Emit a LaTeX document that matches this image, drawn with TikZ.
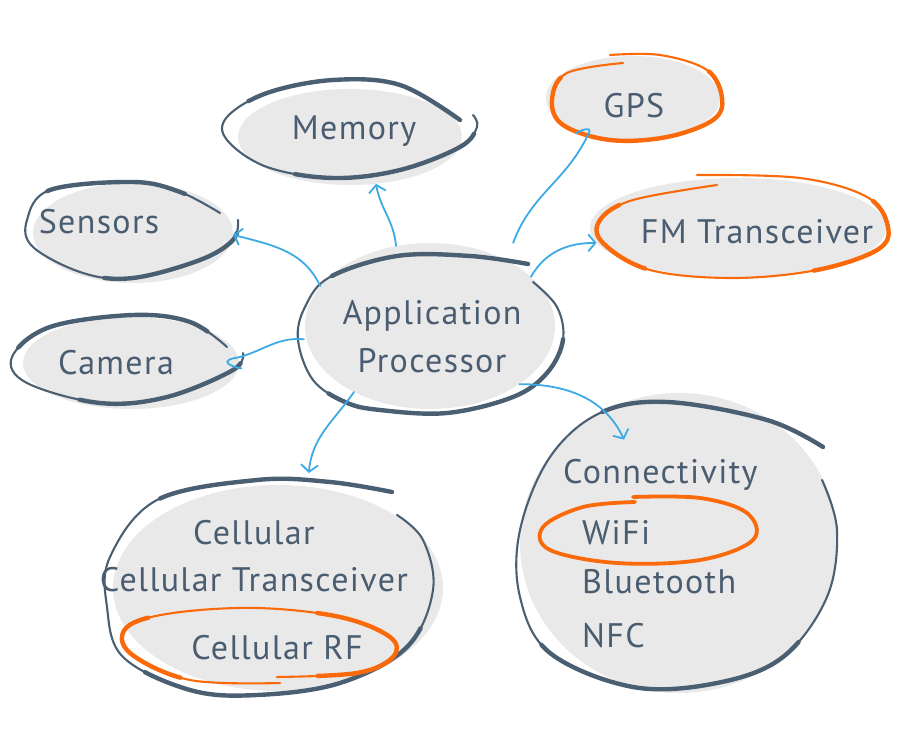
\documentclass[tikz,border=0pt]{standalone}
\usepackage{fontspec}
\setmainfont[LetterSpace=4]{PT Sans}
\usetikzlibrary{shapes.geometric,arrows.meta,calc}
\definecolor{fillc}{HTML}{E9E9E9}
\definecolor{darkc}{HTML}{4B5F73}
\definecolor{textc}{HTML}{4A5D70}
\definecolor{bluec}{HTML}{3BAAE6}
\definecolor{orangec}{HTML}{FA6A0A}
\tikzset{
  blob/.style={ellipse, fill=fillc, inner sep=0pt},
  darkline/.style={draw=darkc, line width=2.1pt, line cap=round, line join=round},
  orangeline/.style={draw=orangec, line width=2.1pt, line cap=round, line join=round},
  heavy/.style n args={2}{postaction={draw, line width=4.4pt, dash pattern={#1}, dash phase={#2}}},
  link/.style={draw=bluec, line width=1.8pt, line cap=round, -{Straight Barb[length=7pt,width=17pt,line width=1.8pt]}},
  curl/.style={draw=bluec, line width=1.8pt, line cap=round},
  lbl/.style={text=textc, font=\fontsize{34}{40}\selectfont, inner sep=0pt, anchor=base},
  lblw/.style={text=textc, font=\fontsize{34}{40}\selectfont, inner sep=0pt, anchor=base west},
}
\begin{document}
\begin{tikzpicture}[x=1pt,y=1pt]
\useasboundingbox (0,0) rectangle (900,-751);

% grey fills
\node[blob, minimum width=250pt, minimum height=166pt] (app) at (430,-326) {};
\node[blob, minimum width=224pt, minimum height=96pt] (mem) at (350,-137) {};
\node[blob, minimum width=200pt, minimum height=100pt] (sen) at (133,-233) {};
\node[blob, minimum width=216pt, minimum height=92pt] (cam) at (131,-363) {};
\node[blob, minimum width=174pt, minimum height=84pt] (gps) at (633,-98) {};
\node[blob, minimum width=296pt, minimum height=100pt] (fm) at (738,-228) {};
\node[blob, minimum width=330pt, minimum height=206pt] (cell) at (278,-588) {};
\node[blob, minimum width=318pt, minimum height=300pt] (cty) at (679,-543) {};

% hand-drawn outlines
\draw[darkline, heavy={on 200pt off 140pt on 270pt off 100pt}{0pt}] plot[smooth, tension=0.6] coordinates {(528,-264) (470,-256) (397,-256) (330,-277) (305,-307) (298,-340) (313,-380) (345,-402) (380,-410) (447,-413) (513,-397) (547,-373) (563,-340) (557,-307) (533,-282)};
\draw[darkline, heavy={on 225pt off 130pt on 190pt off 60pt}{0pt}] plot[smooth, tension=0.6] coordinates {(460,-120) (400,-85) (333,-80) (267,-93) (227,-117) (227,-140) (267,-167) (333,-178) (400,-170) (460,-147) (477,-127) (473,-115)};
\draw[darkline, heavy={on 140pt off 145pt on 145pt off 90pt}{480pt}] plot[smooth, tension=0.6] coordinates {(220,-213) (180,-192) (133,-182) (50,-190) (27,-220) (33,-247) (83,-273) (133,-278) (200,-260) (233,-240) (238,-220)};
\draw[darkline, heavy={on 200pt off 100pt on 170pt off 55pt}{500pt}] plot[smooth, tension=0.6] coordinates {(227,-347) (190,-322) (133,-315) (50,-327) (12,-357) (27,-383) (100,-403) (167,-397) (233,-370) (243,-353)};
\draw[orangeline, heavy={on 265pt off 200pt}{400pt}] plot[smooth, tension=0.6] coordinates {(623,-63) (567,-73) (552,-100) (563,-125) (610,-140) (667,-137) (713,-120) (722,-98) (707,-70) (660,-55) (610,-55)};
\draw[orangeline, heavy={on 100pt off 170pt on 125pt off 300pt}{595pt}] plot[smooth, tension=0.6] coordinates {(717,-185) (633,-200) (600,-220) (603,-243) (650,-270) (733,-278) (817,-270) (877,-250) (888,-227) (867,-197) (800,-178) (697,-175)};
\draw[darkline, heavy={on 235pt off 210pt on 300pt off 150pt}{0pt}] plot[smooth, tension=0.6] coordinates {(392,-492) (330,-482) (257,-480) (157,-500) (110,-557) (107,-607) (123,-657) (190,-690) (257,-695) (340,-683) (407,-647) (433,-590) (423,-540) (397,-515)};
\draw[orangeline, heavy={on 110pt off 170pt on 180pt off 140pt}{500pt}] plot[smooth, tension=0.6] coordinates {(280,-683) (190,-680) (130,-653) (127,-627) (173,-613) (257,-608) (340,-617) (390,-637) (393,-657) (357,-673) (277,-677)};
\draw[darkline, heavy={on 230pt off 270pt on 280pt off 200pt}{0pt}] plot[smooth, tension=0.6] coordinates {(823,-447) (767,-420) (667,-402) (600,-413) (550,-457) (520,-530) (520,-597) (550,-653) (633,-687) (717,-683) (783,-657) (827,-597) (837,-530) (822,-480)};
\draw[orangeline, line width=3.8pt] plot[smooth, tension=0.6] coordinates {(635,-502) (583,-507) (543,-527) (550,-550) (617,-563) (700,-560) (753,-540) (747,-513) (700,-498) (633,-497)};

% texts
\node[lbl] (t-app1) at (432,-325) {Application};
\node[lbl] (t-app2) at (432,-373) {Processor};
\node[lbl] (t-mem) at (354,-140) {Memory};
\node[lbl] (t-sen) at (99,-234) {Sensors};
\node[lbl] (t-cam) at (116,-374) {Camera};
\node[lbl] (t-gps) at (634,-118) {GPS};
\node[lbl] (t-fm) at (757,-244) {FM Transceiver};
\node[lbl] (t-cell1) at (254,-544) {Cellular};
\node[lbl] (t-cell2) at (254,-591) {Cellular Transceiver};
\node[lbl] (t-cell3) at (277,-659) {Cellular RF};
\node[lblw] (t-cty) at (563,-483) {Connectivity};
\node[lblw] (t-wifi) at (582,-544) {WiFi};
\node[lblw] (t-bt) at (582,-593) {Bluetooth};
\node[lblw] (t-nfc) at (582,-647) {NFC};

% connectors
\draw[link] (app.113) to[out=95,in=-80] (mem.-61);
\draw[link] (app.160) to[out=115,in=-15] (sen.-1);
\draw[curl] ($(app.center)!1.02!(app.186)$) to[out=175,in=15] (cam.3)
   .. controls +(-20,-3) and +(-12,2) .. ++(3,-11);
\draw[curl] ($(app.center)!1.2!(app.45)$) to[out=70,in=245] (gps.219)
   .. controls +(5,8) and +(6,4) .. ++(-12,1);
\draw[link] (app.26) to[out=60,in=180] (fm.186);
\draw[link] (app.221) to[out=235,in=85] ($(cell.center)!1.13!(cell.75)$);
\draw[link] (app.-33) to[out=0,in=115] ($(cty.center)!0.77!(cty.118)$);
\end{tikzpicture}
\end{document}
